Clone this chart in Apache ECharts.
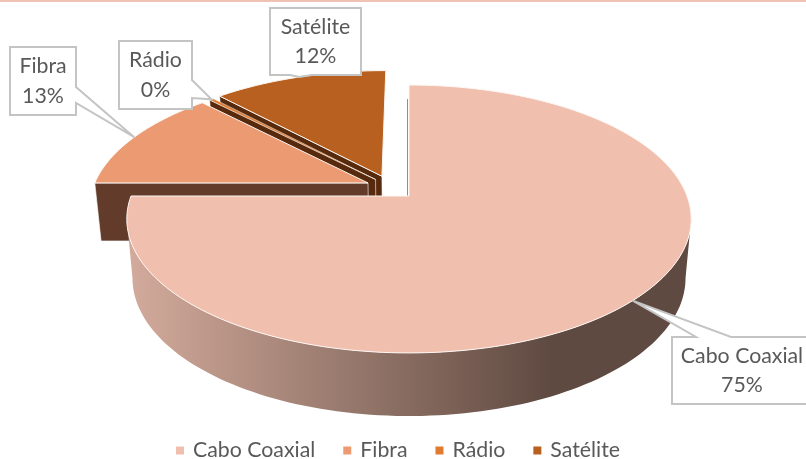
<!DOCTYPE html>
<html>
<head>
<meta charset="utf-8">
<style>html,body{margin:0;padding:0;background:#fff}#c{width:806px;height:459px}</style>
<script src="https://cdn.jsdelivr.net/npm/echarts@6/dist/echarts.min.js"></script>
</head>
<body>
<div id="c"></div>
<script>
const categories = ['Cabo Coaxial', 'Fibra', 'Rádio', 'Satélite'];
const values = [75, 12.7, 0.3, 12];
const topColors = ['#f1bfae', '#ec9a72', '#e07b2f', '#b8601f'];
const sideColors = ['#5f4a41', '#623b2b', '#57290d', '#57290d'];
const explodeU = [0, -0.15, -0.123, -0.1];
const explodeV = [0, -0.102, -0.13, -0.156];
const drawOrder = [4, 3, 2, 1];

const FONT = 'Lato';
const TEXT_SIZE = 21.3;
const TEXT_COLOR = '#595959';
const BORDER = '#c4c4c4';

const boxes = [
  {x: 672, y: 337, w: 140, h: 67, side: 'top', a: 696, b: 731},
  {x: 10, y: 47, w: 66, h: 68, side: 'right', a: 87, b: 103},
  {x: 119, y: 41, w: 73, h: 68, side: 'right', a: 80, b: 98},
  {x: 270, y: 8, w: 91, h: 67, side: 'bottom', a: 290, b: 312}
];

const X0 = 409, Y0 = 196, K = 278, A = 130, C = 0.1716;
function project(u, v, low) {
  const d = 1 - C * v;
  let x = K * u / d, y = A * v / d;
  if (low) { x *= 0.98; y = y * 1.03 + 58.4; }
  return [X0 + x, Y0 + y];
}
const total = values.reduce((s, v) => s + v, 0);
const starts = values.map((_, i) => values.slice(0, i).reduce((s, v) => s + v, 0) / total * 360);
function rim(i, deg, low) {
  const r = deg * Math.PI / 180;
  return project(Math.sin(r) + explodeU[i], -Math.cos(r) + explodeV[i], low);
}
function apex(i, low) { return project(explodeU[i], explodeV[i], low); }
function arc(i, from, to, low) {
  const n = Math.max(2, Math.ceil(Math.abs(to - from) / 1.5));
  const pts = [];
  for (let k = 0; k <= n; k++) pts.push(rim(i, from + (to - from) * k / n, low));
  return pts;
}
function calloutPoints(b, tip) {
  const r = b.x + b.w, d = b.y + b.h;
  if (b.side === 'top') return [[b.x, b.y], [b.a, b.y], tip, [b.b, b.y], [r, b.y], [r, d], [b.x, d]];
  if (b.side === 'right') return [[b.x, b.y], [r, b.y], [r, b.a], tip, [r, b.b], [r, d], [b.x, d]];
  return [[b.x, b.y], [r, b.y], [r, d], [b.b, d], tip, [b.a, d], [b.x, d]];
}

const SIL = Math.acos(C) * 180 / Math.PI; // silhouette tangent of the rim
function sliceRenderer(i) {
  return function (params, api) {
    const value = api.value(0);
    const from = starts[i], to = from + value / total * 360;
    const children = [];
    if (i === 0) {
      const a0 = apex(0, false), r0 = rim(0, 0, false);
      children.push({type: 'line', shape: {x1: r0[0] - 1.5, y1: r0[1] + 14, x2: a0[0] - 1.5, y2: a0[1]},
        style: {stroke: '#9a8a82', lineWidth: 1}});
      const wallFrom = 90 + (90 - SIL), wallTo = Math.min(to, 360 - wallFrom);
      const wall = arc(0, wallFrom, wallTo, false).concat(arc(0, wallTo, wallFrom, true));
      children.push({type: 'polygon', shape: {points: wall}, style: {
        fill: {type: 'linear', x: 132, y: 0, x2: 690, y2: 0, global: true, colorStops: [
          {offset: 0, color: '#d2aa9b'}, {offset: 0.5, color: '#866a5f'},
          {offset: 0.75, color: sideColors[0]}, {offset: 1, color: sideColors[0]}]}}});
    } else {
      const wall = [rim(i, from, false), apex(i, false), apex(i, true), rim(i, from, true)];
      children.push({type: 'polygon', shape: {points: wall},
        style: {fill: sideColors[i], stroke: '#ffffff', lineWidth: 0.6}});
    }
    const top = (i === 0 || to - from > 5) ? [apex(i, false)].concat(arc(i, from, to, false))
      : [apex(i, false), rim(i, from, false), rim(i, to, false)];
    children.push({type: 'polygon', shape: {points: top},
      style: {fill: topColors[i], stroke: '#fdf6f2', lineWidth: i === 2 ? 0.5 : 1}});
    return {type: 'group', children};
  };
}
function labelRenderer(params, api) {
  const i = api.value(0);
  const b = boxes[i];
  const mid = starts[i] + values[i] / total * 180;
  const share = Math.round(values[i] / total * 100);
  const tip = rim(i, mid, false);
  return {type: 'group', children: [
    {type: 'polygon', shape: {points: calloutPoints(b, tip)},
      style: {fill: '#ffffff', stroke: BORDER, lineWidth: 2}},
    {type: 'text', x: b.x + b.w / 2, y: b.y + b.h / 2, style: {
      text: categories[i] + '\n' + share + '%', align: 'center', verticalAlign: 'middle',
      fill: TEXT_COLOR, font: TEXT_SIZE + 'px ' + FONT, lineHeight: 29.5}}
  ]};
}

const series = categories.map((name, i) => ({
  type: 'custom', name, coordinateSystem: 'none', silent: true, animation: false,
  z: drawOrder[i], itemStyle: {color: topColors[i]},
  data: [[values[i]]], renderItem: sliceRenderer(i)
}));
series.push({
  type: 'custom', name: 'rótulos', coordinateSystem: 'none', silent: true, animation: false,
  z: 10, data: categories.map((_, i) => [i]), renderItem: labelRenderer
});

const chart = echarts.init(document.getElementById('c'), null, {renderer: 'canvas'});
chart.setOption({
  animation: false,
  backgroundColor: '#ffffff',
  color: topColors,
  graphic: [{type: 'rect', shape: {x: 0, y: 0, width: 806, height: 2}, style: {fill: '#f0c2b4'}}],
  legend: {
    data: categories, left: 176, top: 440, padding: 0, orient: 'horizontal',
    icon: 'rect', itemWidth: 8, itemHeight: 8, itemGap: 28,
    selectedMode: false,
    textStyle: {fontFamily: FONT, fontSize: TEXT_SIZE, color: TEXT_COLOR, padding: [0, 0, 0, 4]}
  },
  series
});
</script>
</body>
</html>
